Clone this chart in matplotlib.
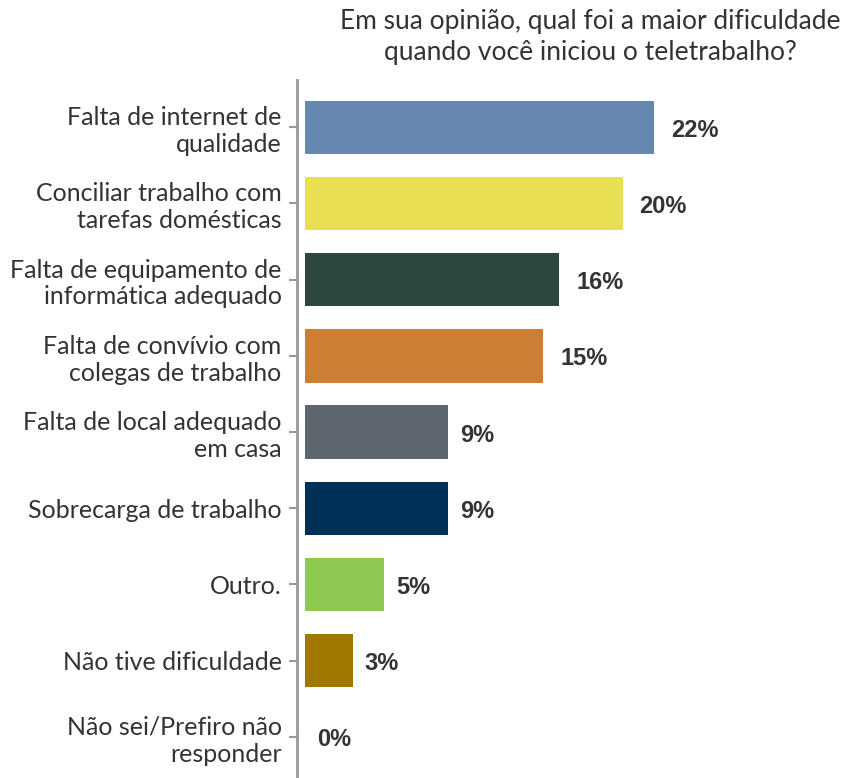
import matplotlib
matplotlib.use("Agg")
import matplotlib.pyplot as plt

categories = [
    "Falta de internet de\nqualidade",
    "Conciliar trabalho com\ntarefas domésticas",
    "Falta de equipamento de\ninformática adequado",
    "Falta de convívio com\ncolegas de trabalho",
    "Falta de local adequado\nem casa",
    "Sobrecarga de trabalho",
    "Outro.",
    "Não tive dificuldade",
    "Não sei/Prefiro não\nresponder",
]
values = [22, 20, 16, 15, 9, 9, 5, 3, 0]
value_labels = ["22%", "20%", "16%", "15%", "9%", "9%", "5%", "3%", "0%"]
colors = ["#6688B0", "#E8E052", "#2C483E", "#CD8035", "#5E6670",
          "#003056", "#8DC852", "#A07800", "#A0A0A0"]
title = "Em sua opinião, qual foi a maior dificuldade\nquando você iniciou o teletrabalho?"

W, H = 856, 778
fig = plt.figure(figsize=(W / 100, H / 100), dpi=100)
ax = fig.add_axes([297 / W, 0, (W - 297) / W, (778 - 80) / H])

y = list(range(len(categories)))
ax.barh(y, values, height=0.7, color=colors)
ax.set_ylim(8.54, -0.62)
ax.set_xlim(-0.5, 34.7)

for yi, v, lab in zip(y, values, value_labels):
    gap = 17 if len(lab) > 2 else 12
    ax.annotate(lab, (v, yi), xytext=(gap, -3), textcoords="offset pixels",
                va="center", ha="left", fontsize=17, fontweight="bold",
                family="Liberation Sans", color="#333333")

ax.set_yticks(y)
ax.set_yticklabels(categories, fontsize=18, family="Lato", color="#333333",
                   linespacing=1.2, ha="right")
ax.set_xticks([])
for s in ["top", "right", "bottom"]:
    ax.spines[s].set_visible(False)
ax.spines["left"].set_color("#999999")
ax.spines["left"].set_linewidth(2)
ax.tick_params(axis="y", length=6, width=1.5, color="#999999", pad=5)

fig.text(590 / W, 1 - 37 / H, title, ha="center", va="center", fontsize=19,
         family="Lato", color="#333333", linespacing=1.3)

fig.savefig("out.png", dpi=100)
